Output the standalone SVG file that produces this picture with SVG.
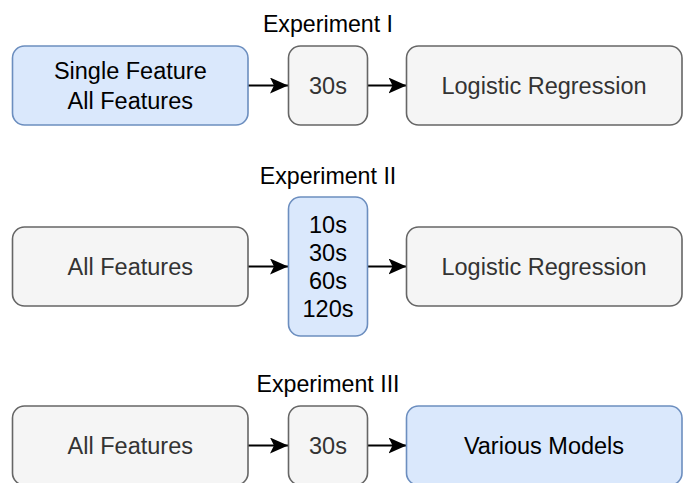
<svg xmlns="http://www.w3.org/2000/svg" width="686" height="483" viewBox="0 0 686 483">
<style>
.g{fill:#f5f5f5;stroke:#666666;stroke-width:1.6}
.b{fill:#dae8fc;stroke:#6c8ebf;stroke-width:1.6}
text{font-family:"Liberation Sans",Arial,sans-serif;font-size:23.5px;text-anchor:middle}
.tg{fill:#333333}
.tb{fill:#000000}
.tt{fill:#000000;font-size:23.2px}
.c{stroke:#000000;stroke-width:2;fill:none}
</style>
<defs>
<marker id="ah" markerUnits="userSpaceOnUse" markerWidth="20" markerHeight="18" refX="18" refY="8" orient="auto">
<path d="M0,0 L18,8 L0,16 L4,8 Z" fill="#000000"/>
</marker>
</defs>
<text class="tt" x="328" y="31.5">Experiment I</text>
<text class="tt" x="328" y="183.5">Experiment II</text>
<text class="tt" x="328" y="391.5">Experiment III</text>
<g id="connectors">
<line class="c" x1="248" y1="85.5" x2="288" y2="85.5" marker-end="url(#ah)"/>
<line class="c" x1="367.5" y1="85.5" x2="406.5" y2="85.5" marker-end="url(#ah)"/>
<line class="c" x1="248" y1="266.5" x2="288" y2="266.5" marker-end="url(#ah)"/>
<line class="c" x1="367.5" y1="266.5" x2="406.5" y2="266.5" marker-end="url(#ah)"/>
<line class="c" x1="248" y1="445.5" x2="288" y2="445.5" marker-end="url(#ah)"/>
<line class="c" x1="367.5" y1="445.5" x2="406.5" y2="445.5" marker-end="url(#ah)"/>
</g>
<g id="n1a"><rect class="b" x="12.5" y="46" width="235.5" height="79" rx="12"/>
<text class="tb" x="130.3" y="78.5">Single Feature</text><text class="tb" x="130.3" y="108.5">All Features</text></g>
<g id="n1b"><rect class="g" x="288.5" y="46" width="79" height="79" rx="12"/>
<text class="tg" x="328" y="93.5">30s</text></g>
<g id="n1c"><rect class="g" x="406.5" y="46" width="275.5" height="79" rx="12"/>
<text class="tg" x="544" y="93.5">Logistic Regression</text></g>
<g id="n2a"><rect class="g" x="12.5" y="227" width="235.5" height="79" rx="12"/>
<text class="tg" x="130.3" y="274.5">All Features</text></g>
<g id="n2b"><rect class="b" x="288.5" y="197" width="79" height="139" rx="12"/>
<text class="tb" x="328" y="232.5">10s</text><text class="tb" x="328" y="260.5">30s</text><text class="tb" x="328" y="288.5">60s</text><text class="tb" x="328" y="316.5">120s</text></g>
<g id="n2c"><rect class="g" x="406.5" y="227" width="275.5" height="79" rx="12"/>
<text class="tg" x="544" y="274.5">Logistic Regression</text></g>
<g id="n3a"><rect class="g" x="12.5" y="406" width="235.5" height="79" rx="12"/>
<text class="tg" x="130.3" y="453.5">All Features</text></g>
<g id="n3b"><rect class="g" x="288.5" y="406" width="79" height="79" rx="12"/>
<text class="tg" x="328" y="453.5">30s</text></g>
<g id="n3c"><rect class="b" x="406.5" y="406" width="275.5" height="79" rx="12"/>
<text class="tb" x="544" y="453.5">Various Models</text></g>
</svg>
